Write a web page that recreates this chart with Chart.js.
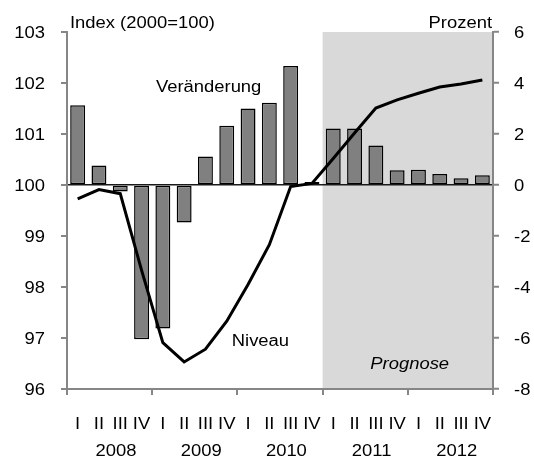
<!DOCTYPE html>
<html>
<head>
<meta charset="utf-8">
<script src="https://cdn.jsdelivr.net/npm/chart.js@4.4.1/dist/chart.umd.min.js"></script>
<style>
  html, body { margin: 0; padding: 0; background: #fff; }
  #chart { display: block; }
</style>
</head>
<body>
<canvas id="chart" width="534" height="459"></canvas>
<script>
const quarterLabels = [
  "I", "II", "III", "IV", "I", "II", "III", "IV", "I", "II",
  "III", "IV", "I", "II", "III", "IV", "I", "II", "III", "IV"
];
const yearLabels = ["2008", "2009", "2010", "2011", "2012"];

// Veränderung gegenüber Vorquartal, Prozent (rechte Achse)
const changeValues = [
  3.13, 0.76, -0.25, -6.05, -5.63, -1.47, 1.12, 2.32, 3.0, 3.23,
  4.67, 0.12, 2.22, 2.22, 1.55, 0.58, 0.6, 0.43, 0.26, 0.38
];

// Niveau, Index 2000=100 (linke Achse)
const levelValues = [
  99.73, 99.91, 99.83, 98.33, 96.91, 96.53, 96.78, 97.33, 98.05, 98.83,
  99.97, 100.03, 100.52, 101.02, 101.51, 101.67, 101.8, 101.92, 101.98, 102.06
];

const leftTicks = [96, 97, 98, 99, 100, 101, 102, 103];
const rightTicks = [-8, -6, -4, -2, 0, 2, 4, 6];
const forecastStart = 12; // erstes Prognosequartal: 2011 I

// text in the plot, placed in data units: [text, x category, axis, value, italic]
const notes = [
  ["Veränderung", 6.15, "y1", 3.66, false],
  ["Niveau", 8.58, "y", 96.85, false],
  ["Prognose", 15.59, "y1", -7.2, true],
];

const FONT = "'Liberation Sans', Arial, sans-serif";
const FONT_SIZE = 16;
const STRETCH = 1.15; // reference text is a bit wider than plain Arial
const AXIS_GREY = "#868686";

function drawText(ctx, text, x, y, align, italic) {
  ctx.save();
  ctx.font = (italic ? "italic " : "") + FONT_SIZE + "px " + FONT;
  ctx.textAlign = align;
  ctx.textBaseline = "alphabetic";
  ctx.translate(x, y);
  ctx.scale(STRETCH, 1);
  ctx.fillText(text, 0, 0);
  ctx.restore();
}

const decorPlugin = {
  id: "decor",
  beforeDraw(chart) {
    const { ctx, chartArea, scales } = chart;
    const x = scales.x;
    const half = (x.getPixelForValue(1) - x.getPixelForValue(0)) / 2;
    const left = x.getPixelForValue(forecastStart) - half;
    ctx.save();
    ctx.fillStyle = "#d9d9d9";
    ctx.fillRect(left, chartArea.top, chartArea.right - left, chartArea.bottom - chartArea.top);
    ctx.restore();
  },
  afterDraw(chart) {
    const { ctx, chartArea, scales } = chart;
    ctx.save();
    ctx.fillStyle = "#000";

    drawText(ctx, "Index (2000=100)", chartArea.left + 3, 27.5, "left");
    drawText(ctx, "Prozent", chartArea.right - 1, 27.5, "right");

    // axis tick labels, cap centre on the tick
    leftTicks.forEach((v) => {
      drawText(ctx, String(v), chartArea.left - 22, scales.y.getPixelForValue(v) + 5.8, "right");
    });
    rightTicks.forEach((v) => {
      drawText(ctx, String(v), chartArea.right + 21, scales.y1.getPixelForValue(v) + 5.8, "left");
    });

    quarterLabels.forEach((q, i) => {
      drawText(ctx, q, scales.x.getPixelForValue(i), 428.5, "center");
    });
    yearLabels.forEach((year, i) => {
      drawText(ctx, year, scales.x.getPixelForValue(i * 4 + 1.8), 456, "center");
    });

    notes.forEach(([text, xv, axis, yv, italic]) => {
      drawText(ctx, text, scales.x.getPixelForValue(xv), scales[axis].getPixelForValue(yv), "center", italic);
    });
    ctx.restore();
  },
};

function fixedTicks(values) {
  return function (scale) {
    scale.ticks = values.map((v) => ({ value: v }));
  };
}

new Chart(document.getElementById("chart"), {
  data: {
    labels: quarterLabels,
    datasets: [
      {
        type: "line",
        label: "Niveau",
        data: levelValues,
        yAxisID: "y",
        borderColor: "#000",
        borderWidth: 3,
        pointRadius: 0,
        tension: 0,
        order: 0,
      },
      {
        type: "bar",
        label: "Veränderung",
        data: changeValues,
        yAxisID: "y1",
        backgroundColor: "#808080",
        borderColor: "#000",
        borderWidth: 1.5,
        borderSkipped: false,
        barPercentage: 0.7,
        categoryPercentage: 1.0,
        order: 1,
      },
    ],
  },
  options: {
    responsive: false,
    animation: false,
    devicePixelRatio: 1,
    layout: { padding: { top: 32, left: 0, right: 0, bottom: 0 } },
    plugins: { legend: { display: false }, tooltip: { enabled: false } },
    scales: {
      x: {
        type: "category",
        offset: true,
        afterFit(scale) { scale.height = 70; },
        grid: {
          offset: true,
          drawOnChartArea: false,
          tickLength: 6,
          lineWidth: 2,
          color: (c) => (c.index === undefined || c.index % 4 === 0 ? AXIS_GREY : "rgba(0,0,0,0)"),
        },
        border: { color: AXIS_GREY, width: 2 },
        ticks: { display: false, autoSkip: false },
      },
      y: {
        position: "left",
        min: 96,
        max: 103,
        afterFit(scale) { scale.width = 67; },
        afterBuildTicks: fixedTicks(leftTicks),
        grid: { drawOnChartArea: false, tickLength: 6, lineWidth: 2, color: AXIS_GREY },
        border: { color: AXIS_GREY, width: 2 },
        ticks: { display: false },
      },
      y1: {
        position: "right",
        min: -8,
        max: 6,
        afterFit(scale) { scale.width = 41; },
        afterBuildTicks: fixedTicks(rightTicks),
        grid: {
          drawOnChartArea: true,
          tickLength: 6,
          lineWidth: 1.5,
          tickWidth: 2,
          tickColor: AXIS_GREY,
          color: (c) => (c.tick && c.tick.value === 0 ? "#1a1a1a" : "rgba(0,0,0,0)"),
        },
        border: { color: AXIS_GREY, width: 2 },
        ticks: { display: false },
      },
    },
  },
  plugins: [decorPlugin],
});
</script>
</body>
</html>
